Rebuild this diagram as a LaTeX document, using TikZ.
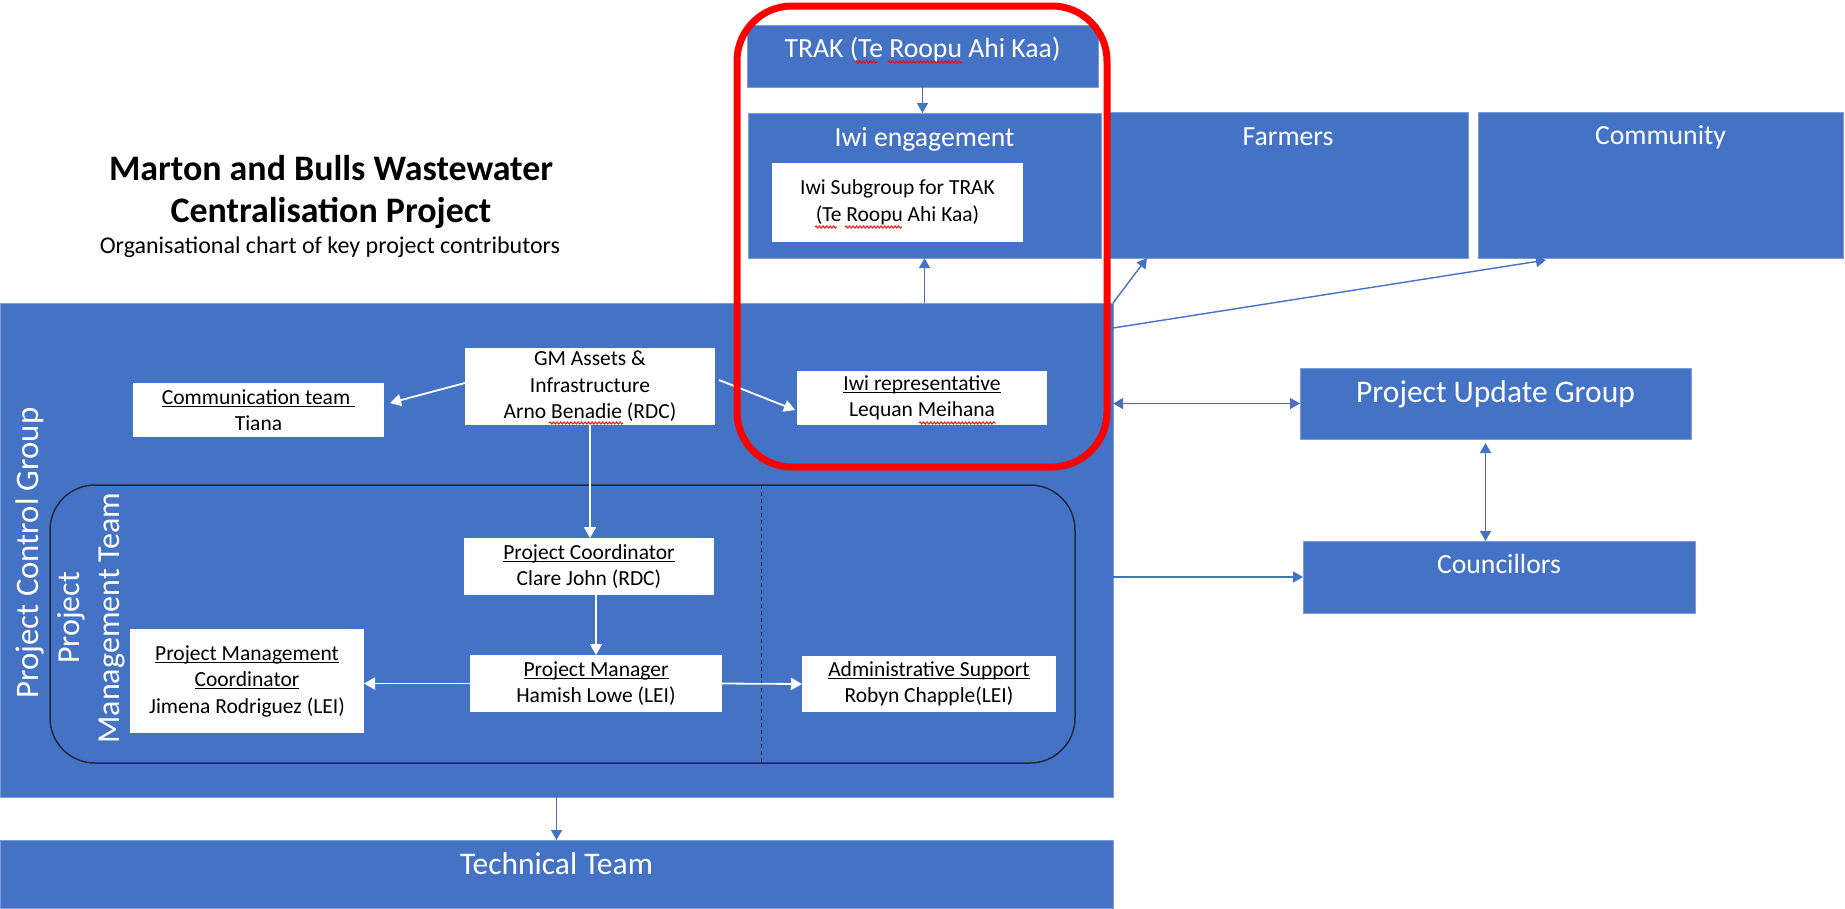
\documentclass[tikz,border=0pt]{standalone}
\usepackage{fontspec}
\setmainfont{Carlito}
\usetikzlibrary{arrows.meta,decorations.pathmorphing,calc}
\definecolor{obl}{HTML}{4472C4}
\definecolor{oedge}{HTML}{7D9BD6}
\definecolor{pmtline}{HTML}{1F2B3D}
\newcommand{\myul}[1]{\setbox0\hbox{#1}\rlap{\rule[-2.8pt]{\wd0}{1.1pt}}\box0}
\begin{document}
\begin{tikzpicture}[x=1pt,y=-1pt,
  bluebox/.style={fill=obl,draw=oedge,line width=0.8pt,inner sep=0pt,outer sep=0pt},
  whitebox/.style={fill=white,draw=none,inner sep=0pt,outer sep=0pt,align=center,text=black,font=\fontsize{21.5}{26.5}\selectfont},
  bluetext/.style={text=white,inner sep=0pt,anchor=base,font=\fontsize{27.7}{33}\selectfont},
  bigbluetext/.style={text=white,inner sep=0pt,anchor=base,font=\fontsize{31.5}{38}\selectfont},
  blink/.style={draw=obl,line width=1.4pt,-{Triangle[width=11pt,length=10pt]}},
  bblink/.style={draw=obl,line width=1.4pt,{Triangle[width=11pt,length=10pt]}-{Triangle[width=11pt,length=10pt]}},
  wlink/.style={draw=white,line width=1.8pt,-{Triangle[width=12pt,length=11pt]}},
  squig/.style={draw=red,line width=0.9pt,decorate,decoration={snake,amplitude=1.1pt,segment length=3.5pt}}
]
\useasboundingbox (0,0) rectangle (1845,908);
\fill[white] (0,0) rectangle (1845,908);

% title
\node[anchor=base,inner sep=0pt,font=\fontsize{35.9}{43}\bfseries\selectfont] (t1) at (331,180) {Marton and Bulls Wastewater};
\node[anchor=base,inner sep=0pt,font=\fontsize{35.9}{43}\bfseries\selectfont] (t2) at (331,222) {Centralisation Project};
\node[anchor=base,inner sep=0pt,font=\fontsize{24}{29}\selectfont] (t3) at (330,253) {Organisational chart of key project contributors};

% top blue boxes
\node[bluebox,minimum width=351,minimum height=62] (trak) at (922.5,56) {};
\node[bluetext] (trakT) at (922.5,57) {TRAK (Te Roopu Ahi Kaa)};
\node[bluebox,minimum width=353,minimum height=145] (iwi) at (924.5,185.5) {};
\node[bluetext] (iwiT) at (924.5,146) {Iwi engagement};
\node[whitebox,minimum width=251,minimum height=79] (sub) at (897.5,202.5) {Iwi Subgroup for TRAK\\(Te Roopu Ahi Kaa)};
\node[bluebox,minimum width=360,minimum height=146] (farmers) at (1288,185) {};
\node[bluetext] (farmersT) at (1288,145) {Farmers};
\node[bluebox,minimum width=365,minimum height=146] (community) at (1660.5,185) {};
\node[bluetext] (communityT) at (1660.5,144) {Community};

% right blue boxes
\node[bluebox,minimum width=391,minimum height=71] (pug) at (1495.5,403.5) {};
\node[bigbluetext] (pugT) at (1495.5,402) {Project Update Group};
\node[bluebox,minimum width=392,minimum height=72] (coun) at (1499,577) {};
\node[bluetext] (counT) at (1499,573) {Councillors};

% project control group
\node[bluebox,minimum width=1113,minimum height=494] (pcg) at (556.5,550) {};
\node[bluebox,minimum width=1113,minimum height=68] (tt) at (556.5,874) {};
\node[bigbluetext] (ttT) at (556.5,874) {Technical Team};

\node[text=white,rotate=90,inner sep=0pt,font=\fontsize{32.8}{40}\selectfont] (pcgl) at (30,553) {Project Control Group};
\node[draw=pmtline,line width=1.5pt,rounded corners=45pt,minimum width=1025,minimum height=278,inner sep=0pt,outer sep=0pt] (pmt) at (562.5,624) {};
\node[text=white,rotate=90,align=center,inner sep=0pt,font=\fontsize{32}{40}\selectfont] (pmtl) at (91,618) {Project\\Management Team};
\coordinate (dx) at (761,0);
\draw[pmtline,line width=1pt,dash pattern=on 4pt off 3pt] (pmt.north -| dx) -- (pmt.south -| dx);

% white boxes
\node[whitebox,minimum width=250,minimum height=77] (gm) at (590,386.5) {GM Assets \&\\Infrastructure\\Arno Benadie (RDC)};
\node[whitebox,minimum width=251,minimum height=54] (comm) at (258.5,410) {\myul{Communication team\ }\\Tiana};
\node[whitebox,minimum width=250,minimum height=54] (iwirep) at (922,398) {\myul{Iwi representative}\\Lequan Meihana};
\node[whitebox,minimum width=250,minimum height=57] (pc) at (589,566.5) {\myul{Project Coordinator}\\Clare John (RDC)};
\node[whitebox,minimum width=252,minimum height=57] (pm) at (596,683.5) {\myul{Project Manager}\\Hamish Lowe (LEI)};
\node[whitebox,minimum width=254,minimum height=56] (admin) at (929,684) {\myul{Administrative Support}\\Robyn Chapple(LEI)};
\node[whitebox,minimum width=234,minimum height=104] (pmc) at (247,681) {\myul{Project Management}\\\myul{Coordinator}\\Jimena Rodriguez (LEI)};

% spelling squiggles
\draw[squig] (855,62) -- (878,62);
\draw[squig] (888,62) -- (962,62);
\draw[squig] (815,227) -- (837,227);
\draw[squig] (845,227) -- (902,227);
\draw[squig] (549,423) -- (623,423);
\draw[squig] (919,423) -- (996,423);

% blue connectors
\draw[blink] (trak.south) -- (trak.south |- iwi.north);
\draw[blink] (iwi.south |- pcg.north) -- (iwi.south);
\draw[blink] (pcg.north east) -- ([xshift=39pt]farmers.south west);
\draw[blink] ([yshift=-25pt]pcg.north east) -- ([xshift=68pt,yshift=-2pt]community.south west);
\draw[bblink] (pcg.east |- pug.west) -- (pug.west);
\draw[bblink] ([xshift=-10pt,yshift=-4pt]pug.south) -- ([xshift=-10pt]pug.south |- coun.north);
\draw[blink] (pcg.east |- coun.west) -- (coun.west);
\draw[blink] (pcg.south) -- (tt.north);

% white connectors
\draw[wlink] ([yshift=3.5pt]gm.west) -- ([xshift=6pt,yshift=7pt]comm.east);
\draw[wlink] ([xshift=4pt,yshift=6.5pt]gm.east) -- ([xshift=-2pt,yshift=-12pt]iwirep.west);
\draw[wlink] (gm.south) -- (gm.south |- pc.north);
\draw[wlink] (pm.north |- pc.south) -- (pm.north);
\draw[wlink] (pm.east) -- (admin.west);
\draw[wlink] (pm.west) -- (pmc.east |- pm.west);

% highlight
\node[draw=red,line width=7pt,rounded corners=55pt,minimum width=370,minimum height=461,inner sep=0pt,outer sep=0pt] (focus) at (922,236.5) {};
\end{tikzpicture}
\end{document}
